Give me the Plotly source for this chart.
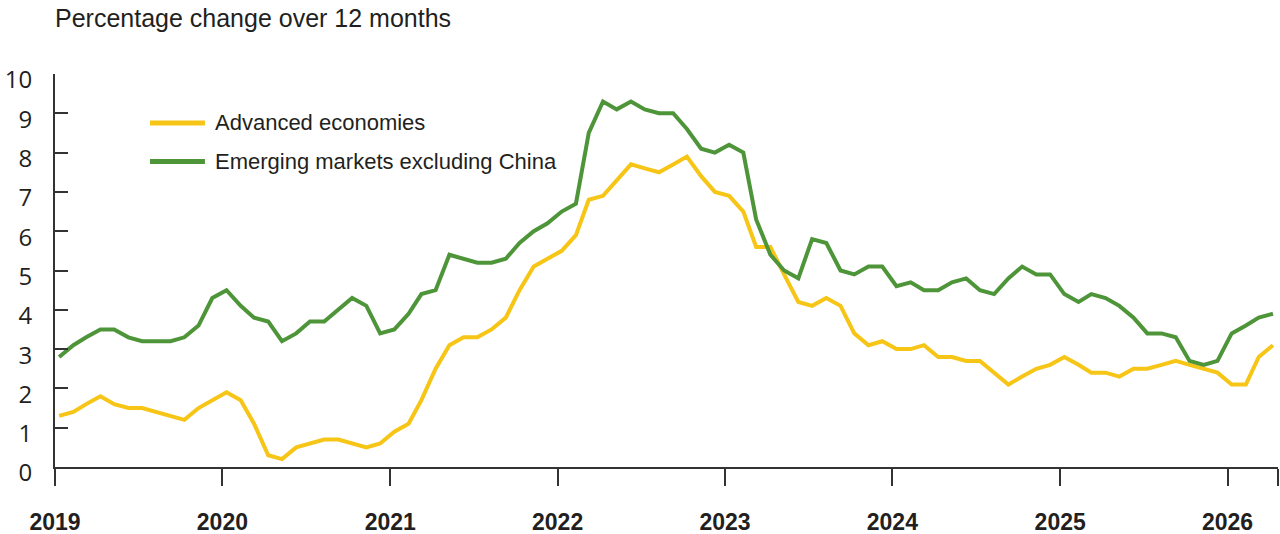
import pandas as pd
import plotly.graph_objects as go

# ---------------- data ----------------
months = pd.period_range("2019-01", "2026-04", freq="M")

advanced = [
    1.3, 1.4, 1.6, 1.8, 1.6, 1.5, 1.5, 1.4, 1.3, 1.2, 1.5, 1.7,   # 2019
    1.9, 1.7, 1.1, 0.3, 0.2, 0.5, 0.6, 0.7, 0.7, 0.6, 0.5, 0.6,   # 2020
    0.9, 1.1, 1.7, 2.5, 3.1, 3.3, 3.3, 3.5, 3.8, 4.5, 5.1, 5.3,   # 2021
    5.5, 5.9, 6.8, 6.9, 7.3, 7.7, 7.6, 7.5, 7.7, 7.9, 7.4, 7.0,   # 2022
    6.9, 6.5, 5.6, 5.6, 4.9, 4.2, 4.1, 4.3, 4.1, 3.4, 3.1, 3.2,   # 2023
    3.0, 3.0, 3.1, 2.8, 2.8, 2.7, 2.7, 2.4, 2.1, 2.3, 2.5, 2.6,   # 2024
    2.8, 2.6, 2.4, 2.4, 2.3, 2.5, 2.5, 2.6, 2.7, 2.6, 2.5, 2.4,   # 2025
    2.1, 2.1, 2.8, 3.1,                                           # 2026
]

emerging = [
    2.8, 3.1, 3.3, 3.5, 3.5, 3.3, 3.2, 3.2, 3.2, 3.3, 3.6, 4.3,   # 2019
    4.5, 4.1, 3.8, 3.7, 3.2, 3.4, 3.7, 3.7, 4.0, 4.3, 4.1, 3.4,   # 2020
    3.5, 3.9, 4.4, 4.5, 5.4, 5.3, 5.2, 5.2, 5.3, 5.7, 6.0, 6.2,   # 2021
    6.5, 6.7, 8.5, 9.3, 9.1, 9.3, 9.1, 9.0, 9.0, 8.6, 8.1, 8.0,   # 2022
    8.2, 8.0, 6.3, 5.4, 5.0, 4.8, 5.8, 5.7, 5.0, 4.9, 5.1, 5.1,   # 2023
    4.6, 4.7, 4.5, 4.5, 4.7, 4.8, 4.5, 4.4, 4.8, 5.1, 4.9, 4.9,   # 2024
    4.4, 4.2, 4.4, 4.3, 4.1, 3.8, 3.4, 3.4, 3.3, 2.7, 2.6, 2.7,   # 2025
    3.4, 3.6, 3.8, 3.9,                                           # 2026
]

series_names = ["Advanced economies", "Emerging markets excluding China"]
series_colors = ["#F6C516", "#4E953A"]

year_ticks = [str(y) for y in range(2019, 2027)]
y_ticks = list(range(0, 11))
title_text = "Percentage change over 12 months"

# ---------------- figure ----------------
x_dates = months.to_timestamp() + pd.Timedelta(days=9)
x_end = "2026-04-21"

fig = go.Figure()
for vals, name, col in zip([advanced, emerging], series_names, series_colors):
    fig.add_trace(go.Scatter(
        x=x_dates, y=vals, mode="lines", name=name,
        line=dict(color=col, width=4), showlegend=False,
    ))

tickvals = [f"{y}-01-01" for y in year_ticks] + [x_end]
ticktext = year_ticks + [""]

axis_col = "#333333"
text_col = "#231f20"

fig.update_xaxes(
    range=["2019-01-01", x_end], automargin=False,
    tickmode="array", tickvals=tickvals, ticktext=ticktext,
    ticks="outside", ticklen=17, tickwidth=2, tickcolor=axis_col,
    showline=True, linecolor=axis_col, linewidth=2,
    showgrid=False, zeroline=False,
    tickfont=dict(family="Liberation Sans, Arial, sans-serif", size=23, color=text_col, weight="bold"),
    ticklabelstandoff=16,
)
fig.update_yaxes(
    range=[0, 10], automargin=False,
    tickmode="array", tickvals=y_ticks, ticktext=[str(v) for v in y_ticks],
    ticks="inside", ticklen=13, tickwidth=2, tickcolor=axis_col,
    showline=True, linecolor=axis_col, linewidth=2,
    showgrid=False, zeroline=False,
    tickfont=dict(family="Open Sans, sans-serif", size=24, color=text_col),
    ticklabelstandoff=16,
    ticklabelshift=6,
)

# custom legend (long line samples as in the reference)
legend_y = [0.8755, 0.7775]
for name, col, ly in zip(series_names, series_colors, legend_y):
    fig.add_shape(type="line", xref="paper", yref="paper",
                  x0=0.0777, x1=0.1226, y0=ly, y1=ly,
                  line=dict(color=col, width=5))
    fig.add_annotation(xref="paper", yref="paper", x=0.1292, y=ly,
                       xanchor="left", yanchor="middle", showarrow=False,
                       text=name,
                       font=dict(family="Liberation Sans, Arial, sans-serif", size=22, color=text_col))

fig.update_layout(
    width=1280, height=534,
    margin=dict(l=55, r=2, t=74, b=67, autoexpand=False),
    paper_bgcolor="white", plot_bgcolor="white",
    title=dict(text=title_text, x=55/1280, xanchor="left", y=1 - 18/534, yanchor="middle",
               font=dict(family="Liberation Sans, Arial, sans-serif", size=25, color=text_col)),
)

fig.write_html("out.html")
